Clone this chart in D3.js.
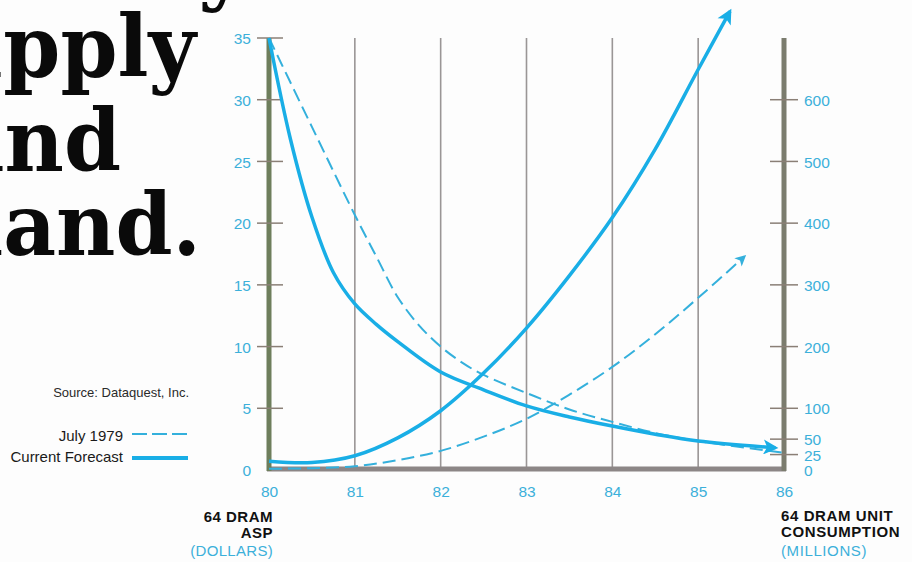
<!DOCTYPE html>
<html>
<head>
<meta charset="utf-8">
<script src="https://cdn.jsdelivr.net/npm/d3@7/dist/d3.min.js"></script>
<style>
  html, body { margin: 0; padding: 0; background: #fdfdfd; }
  svg { display: block; }
</style>
</head>
<body>
<svg id="chart" width="912" height="562"></svg>
<script>
// ---------- data ----------
const years = [80, 81, 82, 83, 84, 85, 86];
const leftTicks = [0, 5, 10, 15, 20, 25, 30, 35];
const rightTicks = [0, 25, 50, 100, 200, 300, 400, 500, 600];

// 64K DRAM average selling price (dollars), left axis
const aspCurrentYears = [80, 80.25, 80.5, 80.75, 81, 81.25, 81.5, 82, 82.5, 83, 83.5, 84, 84.5, 85, 85.9];
const aspCurrent      = [35, 26.8, 20.5, 16.0, 13.45, 11.8, 10.4, 7.94, 6.5, 5.2, 4.3, 3.56, 2.9, 2.35, 1.8];
const aspJulyYears    = [80, 80.5, 81, 81.25, 81.5, 81.75, 82, 82.25, 82.5, 83, 83.5, 84, 84.5, 85, 86];
const aspJuly         = [35, 27.8, 20.66, 17.3, 14.0, 11.7, 10.0, 8.7, 7.7, 6.24, 4.9, 3.9, 3.0, 2.35, 1.4];

// 64K DRAM unit consumption (millions), right axis
const consCurrentYears = [80, 80.5, 81, 81.5, 82, 82.5, 83, 83.5, 84, 84.5, 85, 85.37];
const consCurrent      = [14, 12, 23, 52, 96, 157, 230, 315, 409, 520, 649, 743];
const consJulyYears    = [80, 80.5, 81, 81.5, 82, 82.5, 83, 83.5, 84, 84.5, 85, 85.54];
const consJuly         = [2, 3, 6, 16, 31, 54, 83, 122, 167, 220, 279, 346];

const legendLabels = ["July 1979", "Current Forecast"];
const titleLines = ["Study", "Supply", "and", "Demand."];

// ---------- layout ----------
const svg = d3.select("#chart");
const blue = "#19aee6";
const blueDash = "#34b0dc";
const labelBlue = "#3cb0da";

const x = d3.scaleLinear().domain([80, 86]).range([269, 784]);
const yL = d3.scaleLinear().domain([0, 35]).range([470, 38]);
const yR = d3.scaleLinear().domain([0, 700]).range([470, 38]);

// markers
const defs = svg.append("defs");
function marker(id, w, h, color) {
  defs.append("marker").attr("id", id)
    .attr("viewBox", "0 0 10 10").attr("refX", 8).attr("refY", 5)
    .attr("markerUnits", "userSpaceOnUse")
    .attr("markerWidth", w).attr("markerHeight", h)
    .attr("orient", "auto")
    .append("path").attr("d", "M0,0 L10,5 L0,10 L2.5,5 z").attr("fill", color);
}
marker("arrowSolid", 19, 15, blue);
marker("arrowDash", 14, 11, blueDash);

// ---------- title (partially cropped) ----------
const title = svg.append("g")
  .attr("font-family", "'DejaVu Serif', serif")
  .attr("font-weight", "bold")
  .attr("fill", "#0a0a0a")
  .attr("text-anchor", "end");
const titlePos = [[246, -6], [196, 77], [121, 171], [201, 255]];
titleLines.forEach((t, i) => {
  title.append("text")
    .attr("transform", `translate(${titlePos[i][0]},${titlePos[i][1]}) scale(0.95,1)`)
    .attr("font-size", 86)
    .text(t);
});

// ---------- gridlines ----------
svg.append("g").selectAll("line")
  .data(years.slice(1, -1)).join("line")
  .attr("x1", d => x(d)).attr("x2", d => x(d))
  .attr("y1", yL(35)).attr("y2", yL(0))
  .attr("stroke", "#9a9696").attr("stroke-width", 1.6);

// ---------- axes frame ----------
svg.append("line").attr("x1", x(80) - 2).attr("x2", x(86) + 2)
  .attr("y1", yL(0) - 1).attr("y2", yL(0) - 1)
  .attr("stroke", "#8c8686").attr("stroke-width", 5);
svg.append("line").attr("x1", x(80)).attr("x2", x(80))
  .attr("y1", yL(35)).attr("y2", yL(0) + 1)
  .attr("stroke", "#6e7e5c").attr("stroke-width", 5);
svg.append("line").attr("x1", x(86)).attr("x2", x(86))
  .attr("y1", yL(35)).attr("y2", yL(0) + 1)
  .attr("stroke", "#7b7c6e").attr("stroke-width", 5);

// tick marks crossing the axes
svg.append("g").selectAll("line").data(leftTicks.slice(1)).join("line")
  .attr("x1", x(80) - 12).attr("x2", x(80) + 14)
  .attr("y1", d => yL(d)).attr("y2", d => yL(d))
  .attr("stroke", "#8a7f76").attr("stroke-width", 1.5);
svg.append("g").selectAll("line").data(rightTicks.slice(1)).join("line")
  .attr("x1", x(86) - 14).attr("x2", x(86) + 14)
  .attr("y1", d => yR(d)).attr("y2", d => yR(d))
  .attr("stroke", "#8a7f76").attr("stroke-width", 1.5);

// axis labels through d3 axes
const fontSans = "'Liberation Sans', Arial, Helvetica, sans-serif";
const gL = svg.append("g").attr("transform", `translate(${x(80)},0)`)
  .call(d3.axisLeft(yL).tickValues(leftTicks).tickSize(0).tickPadding(18));
const gR = svg.append("g").attr("transform", `translate(${x(86)},0)`)
  .call(d3.axisRight(yR).tickValues(rightTicks).tickSize(0).tickPadding(20));
const gB = svg.append("g").attr("transform", `translate(0,${yL(0)})`)
  .call(d3.axisBottom(x).tickValues(years).tickFormat(d3.format("d")).tickSize(0).tickPadding(16));
[gL, gR, gB].forEach(g => {
  g.select(".domain").remove();
  g.selectAll("text").attr("fill", labelBlue)
    .attr("font-family", fontSans).attr("font-size", 15.5);
});
gL.selectAll("text").attr("dy", "0.36em");
gR.selectAll("text").attr("dy", "0.36em");

// ---------- series ----------
function linePath(xs, vs, yScale) {
  return d3.line().x((d, i) => x(xs[i])).y(d => yScale(d))
    .curve(d3.curveCatmullRom.alpha(0.5))(vs);
}
svg.append("path").attr("d", linePath(consJulyYears, consJuly, yR))
  .attr("fill", "none").attr("stroke", blueDash).attr("stroke-width", 2)
  .attr("stroke-dasharray", "13,6").attr("marker-end", "url(#arrowDash)");
svg.append("path").attr("d", linePath(aspJulyYears, aspJuly, yL))
  .attr("fill", "none").attr("stroke", blueDash).attr("stroke-width", 2)
  .attr("stroke-dasharray", "13,6");
svg.append("path").attr("d", linePath(consCurrentYears, consCurrent, yR))
  .attr("fill", "none").attr("stroke", blue).attr("stroke-width", 3.5)
  .attr("marker-end", "url(#arrowSolid)");
svg.append("path").attr("d", linePath(aspCurrentYears, aspCurrent, yL))
  .attr("fill", "none").attr("stroke", blue).attr("stroke-width", 3.5)
  .attr("marker-end", "url(#arrowSolid)");

// ---------- source & legend ----------
svg.append("text").attr("x", 189).attr("y", 397).attr("text-anchor", "end")
  .attr("font-family", fontSans).attr("font-size", 13).attr("fill", "#2a2a2a")
  .text("Source: Dataquest, Inc.");
const legY = [441, 462];
legendLabels.forEach((t, i) => {
  svg.append("text").attr("x", 123).attr("y", legY[i]).attr("text-anchor", "end")
    .attr("font-family", fontSans).attr("font-size", 15).attr("fill", "#1a1a1a")
    .text(t);
  svg.append("line").attr("x1", 132).attr("x2", 188)
    .attr("y1", legY[i] - (i ? 4 : 7)).attr("y2", legY[i] - (i ? 4 : 7))
    .attr("stroke", i ? blue : blueDash).attr("stroke-width", i ? 4 : 2)
    .attr("stroke-dasharray", i ? null : "15,5");
});

// ---------- axis titles ----------
[["64 DRAM", 522, "#111", "bold", 0.5], ["ASP", 538, "#111", "bold", 0.5], ["(DOLLARS)", 556, labelBlue, "normal", 0.3]]
  .forEach(([t, yy, c, w, ls]) => {
    svg.append("text").attr("x", 273).attr("y", yy).attr("text-anchor", "end")
      .attr("font-family", fontSans).attr("font-size", 15).attr("font-weight", w)
      .attr("letter-spacing", ls).attr("fill", c).text(t);
  });
[["64 DRAM UNIT", 521, "#111", "bold", 0.6], ["CONSUMPTION", 537, "#111", "bold", 0.6], ["(MILLIONS)", 556, labelBlue, "normal", 0.6]]
  .forEach(([t, yy, c, w, ls]) => {
    svg.append("text").attr("x", 781).attr("y", yy).attr("text-anchor", "start")
      .attr("font-family", fontSans).attr("font-size", 15).attr("font-weight", w)
      .attr("letter-spacing", ls).attr("fill", c).text(t);
  });
</script>
</body>
</html>
